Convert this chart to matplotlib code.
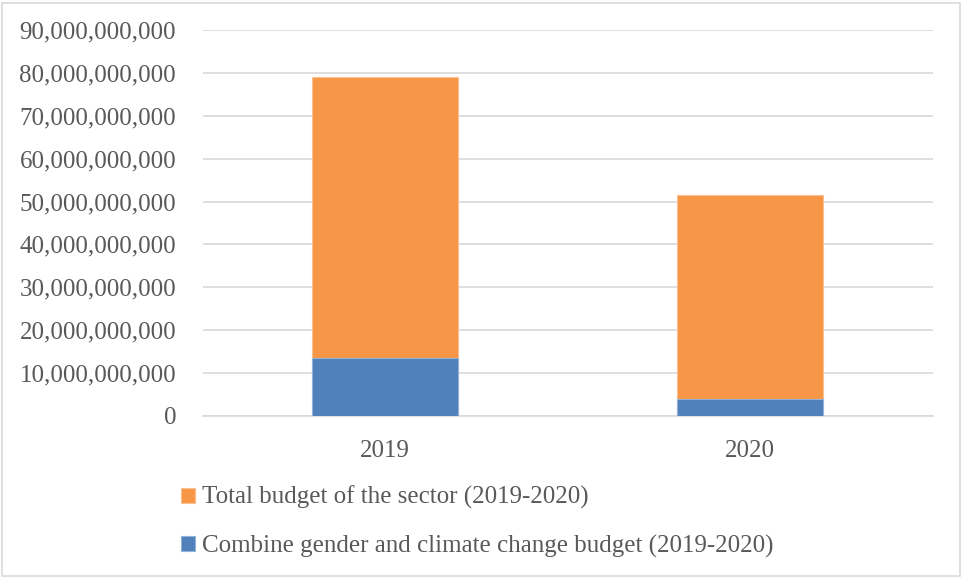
import matplotlib
matplotlib.use("Agg")
import matplotlib.pyplot as plt
from matplotlib.patches import Rectangle
from matplotlib.ticker import FuncFormatter, MultipleLocator

years = ["2019", "2020"]
total_budget = [79.0e9, 51.5e9]
gender_climate_budget = [13.5e9, 3.85e9]
series_labels = ["Total budget of the sector (2019-2020)",
                 "Combine gender and climate change budget (2019-2020)"]

ORANGE = "#F79646"
BLUE = "#4F81BD"
TEXT = "#595959"
GRID = "#D9D9D9"

plt.rcParams["font.family"] = ["Liberation Serif", "DejaVu Serif"]

fig = plt.figure(figsize=(9.63, 5.78), dpi=100)
ax = fig.add_axes([202.5 / 963, 162 / 578, 730 / 963, 386 / 578])

x = [0, 1]
ax.bar(x, total_budget, width=0.4, color=ORANGE, edgecolor="#FAC090",
       linewidth=0.8, label=series_labels[0], zorder=2)
ax.bar(x, gender_climate_budget, width=0.4, color=BLUE, edgecolor="#95B3D7",
       linewidth=0.8, label=series_labels[1], zorder=3)

ax.set_xlim(-0.5, 1.5)
ax.set_ylim(0, 90e9)
ax.yaxis.set_major_locator(MultipleLocator(10e9))
ax.yaxis.set_major_formatter(FuncFormatter(lambda v, p: f"{v:,.0f}"))
ax.set_xticks(x)
ax.set_xticklabels(years)

ax.grid(axis="y", color=GRID, linewidth=1.2, zorder=0)
ax.set_axisbelow(True)
for side in ["top", "right", "left"]:
    ax.spines[side].set_visible(False)
ax.spines["bottom"].set_color(GRID)
ax.spines["bottom"].set_linewidth(1.2)
ax.tick_params(axis="both", length=0, labelsize=18, labelcolor=TEXT)
ax.tick_params(axis="y", pad=19)
ax.tick_params(axis="x", pad=17)

handles, labels = ax.get_legend_handles_labels()
leg = fig.legend(handles, labels, loc="upper left",
                 bbox_to_anchor=(181 / 963, 1 - 486 / 578), ncol=1,
                 frameon=False, fontsize=18, labelcolor=TEXT,
                 handlelength=0.55, handleheight=0.55, handletextpad=0.3,
                 labelspacing=1.0, borderaxespad=0, borderpad=0)

fig.patches.append(Rectangle((2 / 963, 2 / 578), 958 / 963, 573 / 578,
                             transform=fig.transFigure, fill=False,
                             edgecolor=GRID, linewidth=1.2))

fig.savefig("out.png", dpi=100)
